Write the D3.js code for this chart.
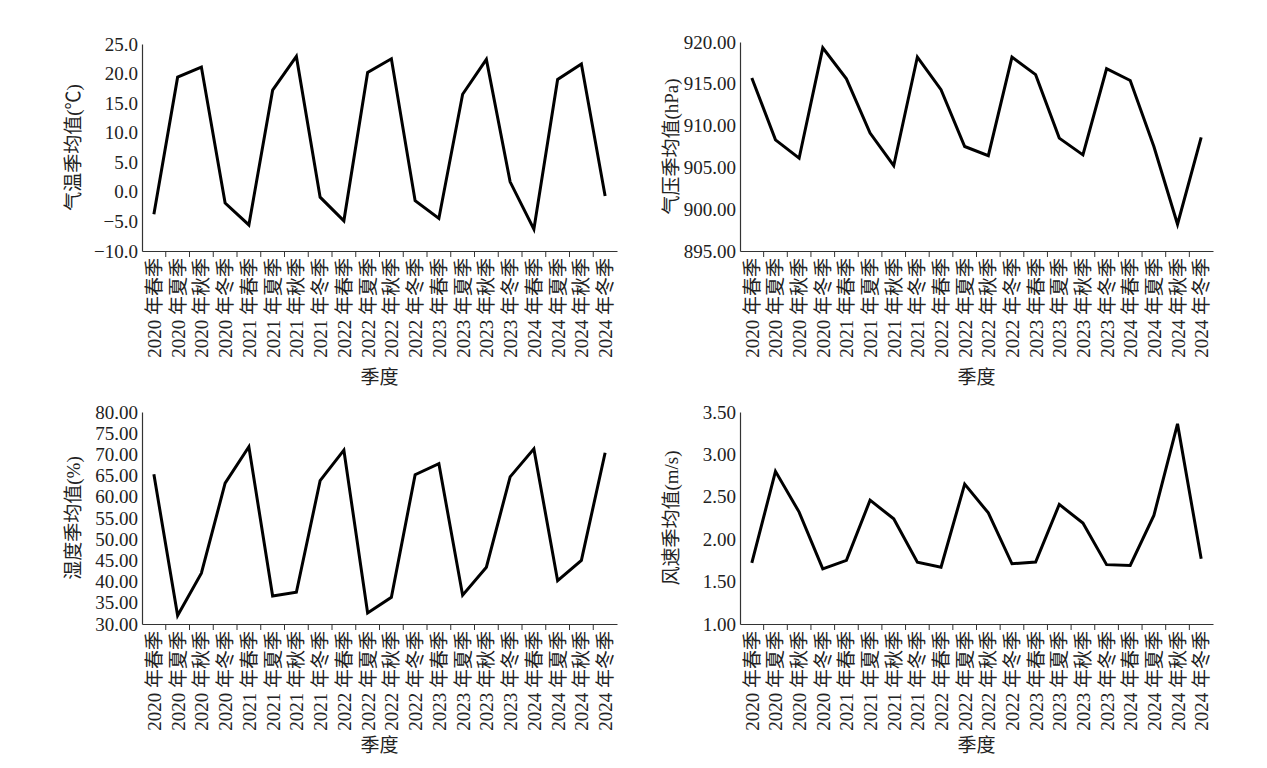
<!DOCTYPE html>
<html><head><meta charset="utf-8">
<script src="https://cdn.jsdelivr.net/npm/d3@7"></script>
<style>body{margin:0;background:#fff}text{font-family:"Liberation Serif","Times New Roman","Noto Sans CJK SC",serif;fill:#222}</style>
</head><body><svg id="c" width="1267" height="768"></svg>
<script>
const years=[2020,2021,2022,2023,2024];
const seasons=["春季","夏季","秋季","冬季"];
const categories=[];years.forEach(y=>seasons.forEach(s=>categories.push(y+" 年"+s)));
const temperature=[-3.8,19.4,21.1,-1.9,-5.6,17.2,22.9,-0.9,-4.9,20.2,22.5,-1.5,-4.5,16.5,22.4,1.7,-6.3,19.0,21.6,-0.7];
const pressure=[915.7,908.3,906.1,919.3,915.6,909.1,905.2,918.2,914.3,907.5,906.4,918.2,916.1,908.5,906.5,916.8,915.4,907.5,898.2,908.6];
const humidity=[65.3,32.0,42.0,63.2,71.8,36.6,37.5,63.8,71.0,32.6,36.3,65.2,67.8,36.8,43.4,64.7,71.3,40.2,45.0,70.4];
const wind=[1.72,2.80,2.32,1.65,1.75,2.46,2.24,1.73,1.67,2.65,2.31,1.71,1.73,2.41,2.19,1.70,1.69,2.28,3.36,1.77];
const panels=[
 {vals:temperature,dom:[-10,25],step:5,dec:1,label:"气温季均值(℃)",x0:142,x1:617,y0:44,y1:251,xlab:384},
 {vals:pressure,dom:[895,920],step:5,dec:2,label:"气压季均值(hPa)",x0:740,x1:1213,y0:42,y1:251,xlab:384},
 {vals:humidity,dom:[30,80],step:5,dec:2,label:"湿度季均值(%)",x0:142,x1:617,y0:412,y1:624,xlab:752},
 {vals:wind,dom:[1,3.5],step:0.5,dec:2,label:"风速季均值(m/s)",x0:740,x1:1213,y0:412,y1:624,xlab:752}];
const svg=d3.select("#c");
panels.forEach(p=>{
 const g=svg.append("g");
 const x=d3.scaleBand().domain(categories).range([p.x0,p.x1]);
 const y=d3.scaleLinear().domain(p.dom).range([p.y1,p.y0]);
 const ticks=d3.range(p.dom[0],p.dom[1]+p.step/2,p.step);
 const ya=g.append("g").attr("transform",`translate(${p.x0},0)`).call(d3.axisLeft(y).tickValues(ticks).tickSize(0).tickPadding(4).tickFormat(v=>{const s=Math.abs(v).toFixed(p.dec);return v<-1e-9?"−"+s:s;}));
 ya.selectAll("text").style("font-size","19px");
 ya.select(".domain").attr("stroke","#333").attr("stroke-width",1.2);
 const xa=g.append("g").attr("transform",`translate(0,${p.y1})`).call(d3.axisBottom(x).tickSize(0).tickFormat(""));
 xa.select(".domain").attr("stroke","#333").attr("stroke-width",1.2);
 g.selectAll("line.tk").data(d3.range(1,categories.length)).join("line").attr("class","tk")
  .attr("x1",i=>p.x0+x.step()*i).attr("x2",i=>p.x0+x.step()*i).attr("y1",p.y1).attr("y2",p.y1+6).attr("stroke","#333");
 g.selectAll("text.cl").data(categories).join("text").attr("class","cl")
  .attr("transform",d=>`translate(${x(d)+x.bandwidth()/2+7},${p.y1+7}) rotate(-90)`)
  .attr("text-anchor","end").style("font-size","19px").text(d=>d);
 g.append("path").datum(p.vals).attr("fill","none").attr("stroke","#000").attr("stroke-width",3).attr("stroke-linejoin","miter")
  .attr("d",d3.line().x((d,i)=>x(categories[i])+x.bandwidth()/2).y(d=>y(d)));
 g.append("text").attr("transform",`translate(${p.x0-62},${(p.y0+p.y1)/2}) rotate(-90)`).attr("text-anchor","middle").style("font-size","19px").text(p.label);
 g.append("text").attr("x",(p.x0+p.x1)/2).attr("y",p.xlab).attr("text-anchor","middle").style("font-size","19px").text("季度");
});
</script></body></html>
